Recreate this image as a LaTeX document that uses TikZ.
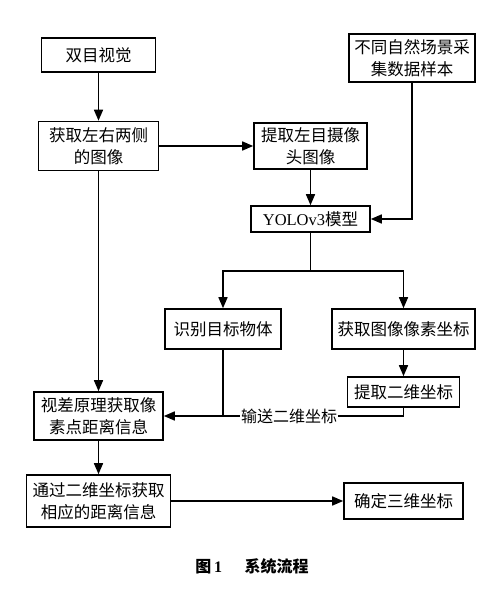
\documentclass[tikz,border=0pt]{standalone}
\usepackage{fontspec}
\setmainfont{Liberation Serif}
\newfontfamily\cjk{Noto Sans CJK SC}
\usetikzlibrary{arrows.meta}
\tikzset{
  flow box/.style={
    draw=black,
    line width=1.6pt,
    align=center,
    inner sep=2pt,
    font=\cjk\fontsize{16.5}{22}\selectfont
  },
  flow line/.style={
    -,
    line width=1.6pt,
    color=black
  },
  flow arrow/.style={
    -{Triangle[length=11pt, width=9pt]},
    line width=1.6pt,
    color=black
  },
  path label/.style={
    fill=white,
    inner sep=1pt,
    font=\cjk\fontsize{16}{18}\selectfont
  }
}

\begin{document}
\begin{tikzpicture}[x=1pt, y=-1pt]
    \useasboundingbox (0, 0) rectangle (500, 591);
    % 左列
    \node[flow box, minimum width=114pt, minimum height=34pt] (Binocular) at (98.5, 55) {双目视觉};
    \node[flow box, minimum width=120pt, minimum height=49pt] (GetImages) at (98.5, 146) {获取左右两侧\\的图像};
    \node[flow box, minimum width=129pt, minimum height=48pt] (Disparity) at (98.5, 416) {视差原理获取像\\素点距离信息};
    \node[flow box, minimum width=144pt, minimum height=52pt] (Distance) at (98.5, 501) {通过二维坐标获取\\相应的距离信息};

    % 中间与右侧
    \node[flow box, minimum width=113pt, minimum height=46pt] (LeftImage) at (310.5, 146) {提取左目摄像\\头图像};
    \node[flow box, minimum width=126pt, minimum height=48pt] (Samples) at (412, 58) {不同自然场景采\\集数据样本};
    \node[flow box, minimum width=119pt, minimum height=26pt] (Yolo) at (310.5, 219) {{\rmfamily YOLOv3}模型};
    \node[flow box, minimum width=116pt, minimum height=40pt] (Recognize) at (223, 329) {识别目标物体};
    \node[flow box, minimum width=143pt, minimum height=40pt] (PixelCoord) at (403.5, 329) {获取图像像素坐标};
    \node[flow box, minimum width=112pt, minimum height=30pt] (Extract2D) at (403.5, 392) {提取二维坐标};
    \node[flow box, minimum width=119pt, minimum height=36pt] (Coord3D) at (403.5, 501) {确定三维坐标};

    % 分叉点
    \coordinate (Split) at (310.5, 271);

    % 连线
    \draw[flow arrow] (Binocular) -- (GetImages);
    \draw[flow arrow] (GetImages) -- (LeftImage);
    \draw[flow arrow] (LeftImage) -- (Yolo);
    \draw[flow arrow] (Samples.south) |- (Yolo.east);
    \draw[flow line] (Yolo) -- (Split);
    \draw[flow arrow] (Split) -| (Recognize);
    \draw[flow arrow] (Split) -| (PixelCoord);
    \draw[flow arrow] (PixelCoord) -- (Extract2D);
    \draw[flow arrow] (Extract2D.south) |- (Disparity.east);
    \draw[flow line] (Recognize.south) -- (Recognize |- Disparity.east);
    \draw[flow arrow] (GetImages) -- (Disparity);
    \draw[flow arrow] (Disparity) -- (Distance);
    \draw[flow arrow] (Distance) -- (Coord3D);

    \node[path label] (SendLabel) at (289, 416) {输送二维坐标};

    % 图题
    \node[font=\cjk\bfseries\fontsize{16}{18}\selectfont] (Caption) at (252, 566) {图\,{\rmfamily\bfseries 1}\hspace{1.4em}系统流程};
  \end{tikzpicture}
\end{document}
